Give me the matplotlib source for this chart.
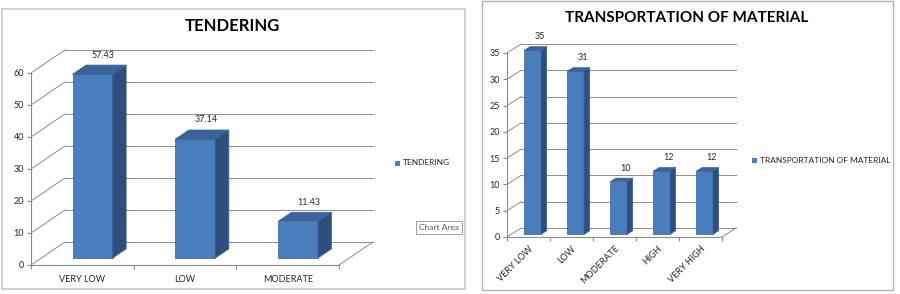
import numpy as np
import matplotlib
matplotlib.use('Agg')
import matplotlib.pyplot as plt
from matplotlib.patches import Polygon, Rectangle, FancyBboxPatch

plt.rcParams['font.family'] = ['Lato', 'DejaVu Sans']

# data
tender_cats = ['VERY LOW', 'LOW', 'MODERATE']
tender_vals = [57.43, 37.14, 11.43]
tender_ticks = [0, 10, 20, 30, 40, 50, 60]

transport_cats = ['VERY LOW', 'LOW', 'MODERATE', 'HIGH', 'VERY HIGH']
transport_vals = [35, 31, 10, 12, 12]
transport_ticks = [0, 5, 10, 15, 20, 25, 30, 35]

front_col = '#4a7dbd'
side_col = '#2e4f7d'
top_col = '#3a6399'
edge_col = '#35609a'
grid_col = '#8c8c8c'
text_col = '#262626'


def draw_chart(ax, cats, vals, yticks, wall_dx, wall_dy, ylim_top, xlim_right, labels_rot=0):
    n = len(cats)
    # left wall diagonals and back wall gridlines
    for t in yticks:
        ax.plot([-0.5, -0.5 + wall_dx], [t, t + wall_dy], color=grid_col, lw=0.7, zorder=1, clip_on=False)
        ax.plot([-0.5 + wall_dx, n - 0.5 + wall_dx], [t + wall_dy] * 2, color=grid_col, lw=0.7, zorder=1,
                clip_on=False)
    # floor
    ax.plot([-0.5, n - 0.5], [0, 0], color=grid_col, lw=0.8, zorder=1, clip_on=False)
    ax.plot([n - 0.5, n - 0.5 + wall_dx], [0, wall_dy], color=grid_col, lw=0.7, zorder=1, clip_on=False)
    # front value axis
    ax.plot([-0.5, -0.5], [0, yticks[-1]], color=grid_col, lw=0.8, zorder=1, clip_on=False)

    # bars sit between 30% and 70% of the floor depth
    f0, f1 = 0.3, 0.7
    w = 0.39
    x = np.arange(n) + f0 * wall_dx
    base = f0 * wall_dy
    ddx = (f1 - f0) * wall_dx
    ddy = (f1 - f0) * wall_dy
    ax.bar(x, vals, width=w, bottom=base, color=front_col, edgecolor=edge_col, lw=0.5, zorder=3)
    for xi, v in zip(x, vals):
        l, r = xi - w / 2, xi + w / 2
        top = base + v
        ax.add_patch(Polygon([(r, base), (r + ddx, base + ddy), (r + ddx, top + ddy), (r, top)],
                             closed=True, fc=side_col, ec=edge_col, lw=0.5, zorder=3))
        ax.add_patch(Polygon([(l, top), (r, top), (r + ddx, top + ddy), (l + ddx, top + ddy)],
                             closed=True, fc=top_col, ec=edge_col, lw=0.5, zorder=3))
        ax.annotate(f'{v:g}', (xi + ddx / 2, top + ddy), xytext=(3, 4), textcoords='offset points',
                    ha='center', va='bottom', fontsize=6.5, color=text_col)

    ax.set_xlim(-0.5, xlim_right)
    ax.set_ylim(0, ylim_top)
    ax.set_yticks(yticks)
    ax.set_yticklabels([str(t) for t in yticks], fontsize=6.5, color=text_col)
    ax.set_xticks(np.arange(n + 1) - 0.5)
    ax.set_xticklabels([])
    ax.set_xticks(np.arange(n), minor=True)
    if labels_rot:
        ax.set_xticklabels(cats, minor=True, fontsize=6.5, color=text_col, rotation=labels_rot,
                           ha='right', va='top', rotation_mode='anchor')
        ax.tick_params(axis='x', which='minor', length=0, pad=5)
    else:
        ax.set_xticklabels(cats, minor=True, fontsize=6.5, color=text_col)
        ax.tick_params(axis='x', which='minor', length=0, pad=7)
    ax.tick_params(axis='both', which='major', length=3, color=grid_col, pad=2)
    for s in ax.spines.values():
        s.set_visible(False)
    ax.patch.set_visible(False)


fig = plt.figure(figsize=(9, 2.94), dpi=100)
W, H = 900.0, 294.0

# chart frames
fig.patches.append(FancyBboxPatch((2 / W, 5 / H), 463 / W, 280 / H, boxstyle='square,pad=0',
                                  transform=fig.transFigure, fc='none', ec='#c8c8c8', lw=1.2, zorder=-1))
fig.patches.append(FancyBboxPatch((482 / W, 4 / H), 411 / W, 289 / H, boxstyle='square,pad=0',
                                  transform=fig.transFigure, fc='none', ec='#b4b4b4', lw=1.0, zorder=-1))

ax1 = fig.add_axes([31 / W, (H - 265) / H, 344 / W, 217 / H])
draw_chart(ax1, tender_cats, tender_vals, tender_ticks, 0.331, 7.2, 67.8, 2.85)

ax2 = fig.add_axes([507 / W, (H - 237) / H, 230 / W, 199 / H])
draw_chart(ax2, transport_cats, transport_vals, transport_ticks, 0.326, 1.71, 37.85, 4.85, labels_rot=45)

# titles
fig.text(232 / W, 1 - 26 / H, 'TENDERING', ha='center', va='center', fontsize=12, fontweight='bold',
         color='black')
fig.text(687 / W, 1 - 18 / H, 'TRANSPORTATION OF MATERIAL', ha='center', va='center', fontsize=11,
         fontweight='bold', color='black')

# legends
fig.patches.append(Rectangle((395 / W, (H - 165.5) / H), 5 / W, 5 / H, transform=fig.transFigure,
                             fc=front_col, ec='none'))
fig.text(403 / W, 1 - 163 / H, 'TENDERING', ha='left', va='center', fontsize=6, color=text_col)
fig.patches.append(Rectangle((752 / W, (H - 162.5) / H), 5 / W, 5 / H, transform=fig.transFigure,
                             fc=front_col, ec='none'))
fig.text(760 / W, 1 - 160 / H, 'TRANSPORTATION OF MATERIAL', ha='left', va='center', fontsize=6,
         color=text_col)

# Excel tooltip left in the screenshot
fig.text(419 / W, 1 - 227.5 / H, 'Chart Area', ha='left', va='center', fontsize=6, color='#595959',
         bbox=dict(boxstyle='square,pad=0.35', fc='white', ec='#a0a0a0', lw=0.7))

fig.savefig('out.png', dpi=100)
